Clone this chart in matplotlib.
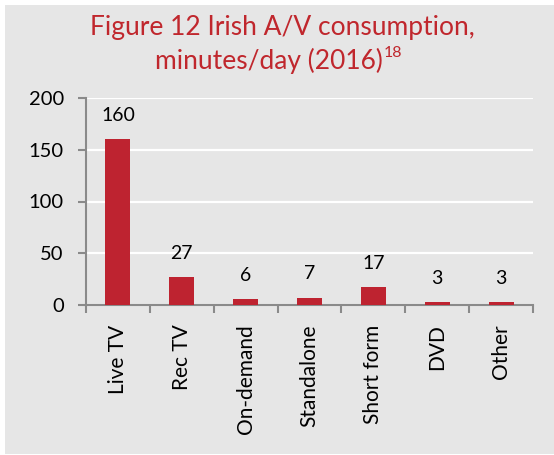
import matplotlib
matplotlib.use("Agg")
import matplotlib.pyplot as plt
from matplotlib.patches import Rectangle

categories = ["Live TV", "Rec TV", "On-demand", "Standalone", "Short form", "DVD", "Other"]
values = [160, 27, 6, 7, 17, 3, 3]
yticks = [0, 50, 100, 150, 200]

plt.rcParams['font.family'] = ['Lato', 'DejaVu Sans']

W, H = 554, 455
fig = plt.figure(figsize=(W / 100, H / 100), dpi=100, facecolor='white')
bg = '#e6e6e6'
fig.patches.append(Rectangle((5 / W, 1 / H), 549 / W, 449 / H, transform=fig.transFigure,
                             facecolor=bg, edgecolor='none', zorder=-10))

ax = fig.add_axes([86 / W, (H - 305) / H, (533 - 86) / W, (305 - 98) / H])
ax.set_facecolor(bg)
red = '#be2330'
x = list(range(len(categories)))
bars = ax.bar(x, values, width=0.39, color=red, zorder=3)
for xi, v in zip(x, values):
    ax.annotate(str(v), (xi, v), xytext=(0, 11), textcoords='offset points',
                ha='center', va='bottom', fontsize=14, color='black')

ax.set_xlim(-0.5, len(categories) - 0.5)
ax.set_ylim(0, 200)
ax.set_yticks(yticks)
ax.set_yticklabels([str(t) for t in yticks], fontsize=14.5)
ax.yaxis.grid(True, color='white', linewidth=1.6, zorder=0)
ax.set_axisbelow(True)

ax.set_xticks(x)
ax.set_xticklabels(categories, rotation=90, fontsize=15)
ax.set_xticks([i - 0.5 for i in range(len(categories) + 1)], minor=True)
ax.tick_params(axis='x', which='major', length=0, pad=14)
ax.tick_params(axis='x', which='minor', length=6, width=1.5, color='#8a8a8a', direction='out')
ax.tick_params(axis='y', length=6, width=1.5, color='#8a8a8a', direction='out', pad=10)

for s in ['top', 'right']:
    ax.spines[s].set_visible(False)
for s in ['left', 'bottom']:
    ax.spines[s].set_color('#8a8a8a')
    ax.spines[s].set_linewidth(1.5)

tcol = '#c0272d'
fig.text(282 / W, 1 - 35 / H, "Figure 12 Irish A/V consumption,", ha='center', va='baseline',
         fontsize=19, color=tcol)
t2 = fig.text(155 / W, 1 - 69 / H, "minutes/day (2016)", ha='left', va='baseline',
              fontsize=19, color=tcol)
fig.canvas.draw()
bb = t2.get_window_extent()
fig.text(bb.x1 / W + 1 / W, 1 - 57 / H, "18", ha='left', va='baseline', fontsize=11.5, color=tcol)

fig.savefig("out.png", dpi=100, facecolor=fig.get_facecolor())
